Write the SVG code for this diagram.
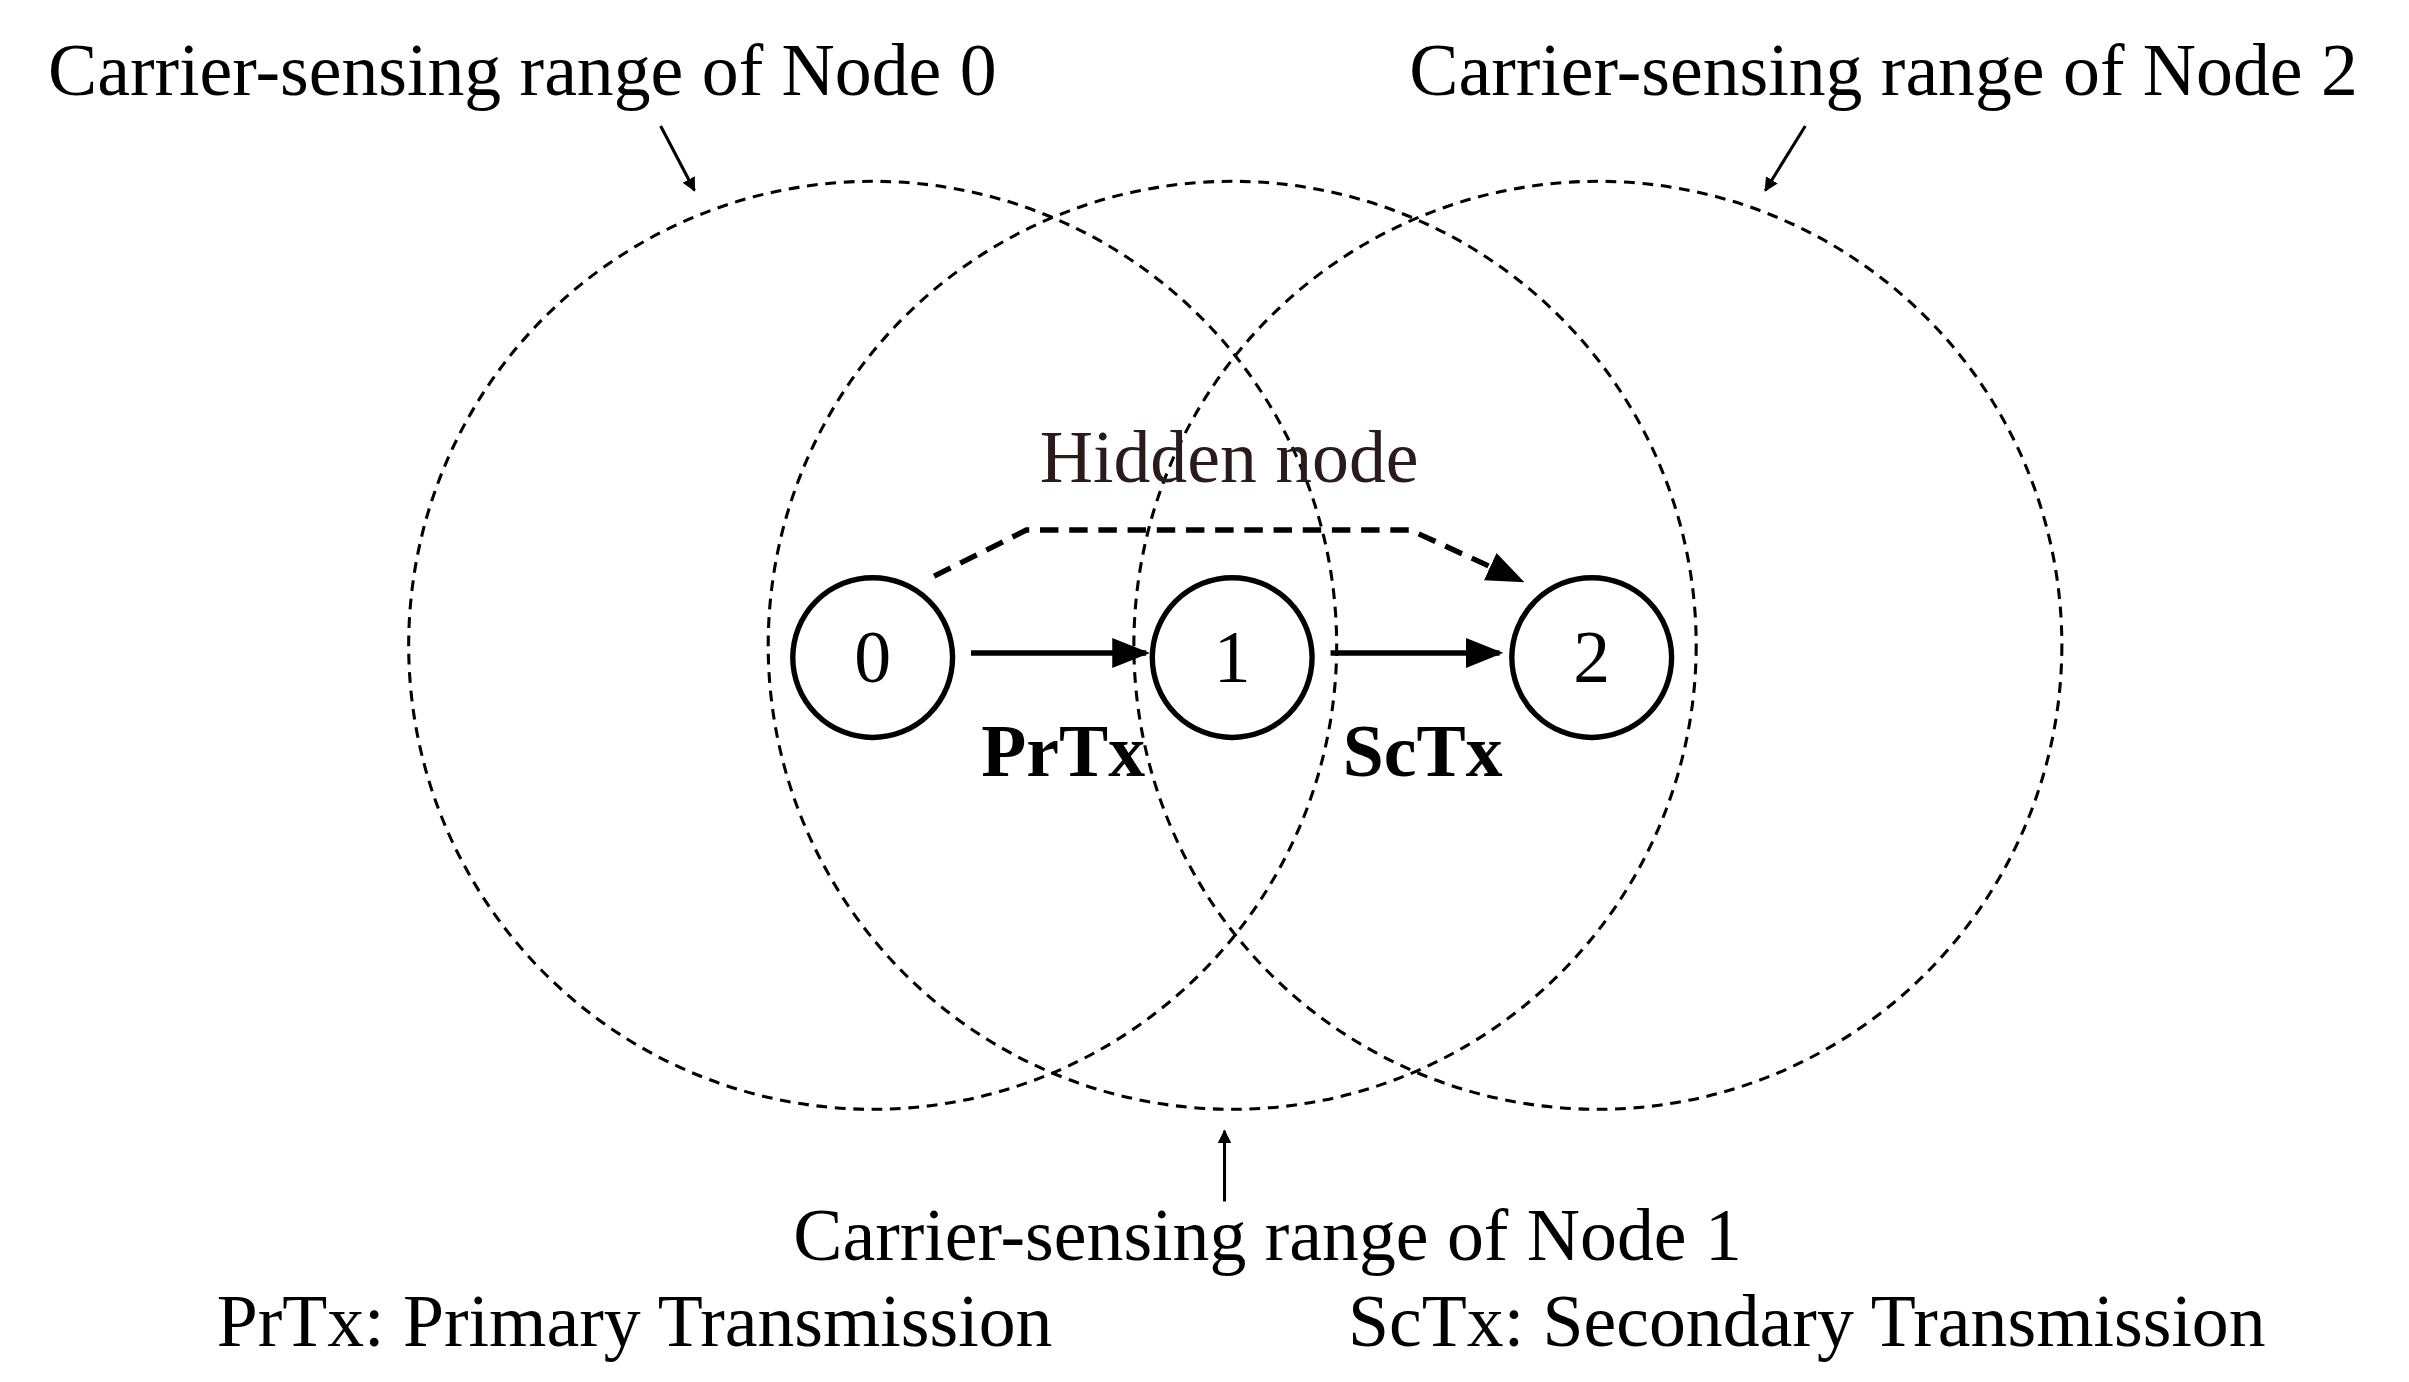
<svg xmlns="http://www.w3.org/2000/svg" width="2409" height="1382" viewBox="0 0 2409 1382">
<style>
text{font-family:"Liberation Serif","Times New Roman",serif;fill:#000}
.lbl{font-size:48px;text-anchor:middle}
.range{fill:none;stroke:#000;stroke-width:2;stroke-dasharray:7 5}
.node{fill:#fff;stroke:#000;stroke-width:3.5}
.edge{fill:none;stroke:#000;stroke-width:3.5}
.thin{fill:none;stroke:#000;stroke-width:2}
</style>
<defs>
<marker id="ah" viewBox="0 0 10 10" refX="9" refY="5" markerWidth="9" markerHeight="9" markerUnits="userSpaceOnUse" orient="auto"><path d="M0,0 L10,5 L0,10 z"/></marker>
<marker id="big" viewBox="0 0 10 10" refX="9" refY="5" markerWidth="7" markerHeight="7" orient="auto"><path d="M0,1 L10,5 L0,9 z"/></marker>
</defs>
<rect width="2409" height="1382" fill="#fff"/>
<g transform="scale(1.5364)">
<g id="ranges">
<circle class="range" cx="568" cy="420" r="302"/>
<circle class="range" cx="802" cy="420" r="302"/>
<circle class="range" cx="1040" cy="420" r="302"/>
</g>
<g id="connectors">
<line class="edge" x1="632" y1="425" x2="746" y2="425" marker-end="url(#big)"/>
<line class="edge" x1="866" y1="425" x2="976" y2="425" marker-end="url(#big)"/>
<polyline class="edge" stroke-dasharray="12 7" points="608,375 668,345 918,345 990,378" marker-end="url(#big)"/>
<line class="thin" x1="430" y1="82" x2="452" y2="124" marker-end="url(#ah)"/>
<line class="thin" x1="1175" y1="82" x2="1149" y2="124" marker-end="url(#ah)"/>
<line class="thin" x1="797" y1="782" x2="797" y2="736" marker-end="url(#ah)"/>
</g>
<g id="node0"><circle class="node" cx="568" cy="428" r="52"/><text class="lbl" x="568" y="444">0</text></g>
<g id="node1"><circle class="node" cx="802" cy="428" r="52"/><text class="lbl" x="802" y="444">1</text></g>
<g id="node2"><circle class="node" cx="1036" cy="428" r="52"/><text class="lbl" x="1036" y="444">2</text></g>
<text class="lbl" x="800" y="314" style="fill:#2a1a1a">Hidden node</text>
<text class="lbl" x="692" y="505" font-weight="bold" font-size="44">PrTx</text>
<text class="lbl" x="926" y="505" font-weight="bold" font-size="44">ScTx</text>
<text class="lbl" x="340" y="62">Carrier-sensing range of Node 0</text>
<text class="lbl" x="1226" y="62">Carrier-sensing range of Node 2</text>
<text class="lbl" x="825" y="820">Carrier-sensing range of Node 1</text>
<text class="lbl" x="413" y="876">PrTx: Primary Transmission</text>
<text class="lbl" x="1176" y="876">ScTx: Secondary Transmission</text>
</g>
</svg>
